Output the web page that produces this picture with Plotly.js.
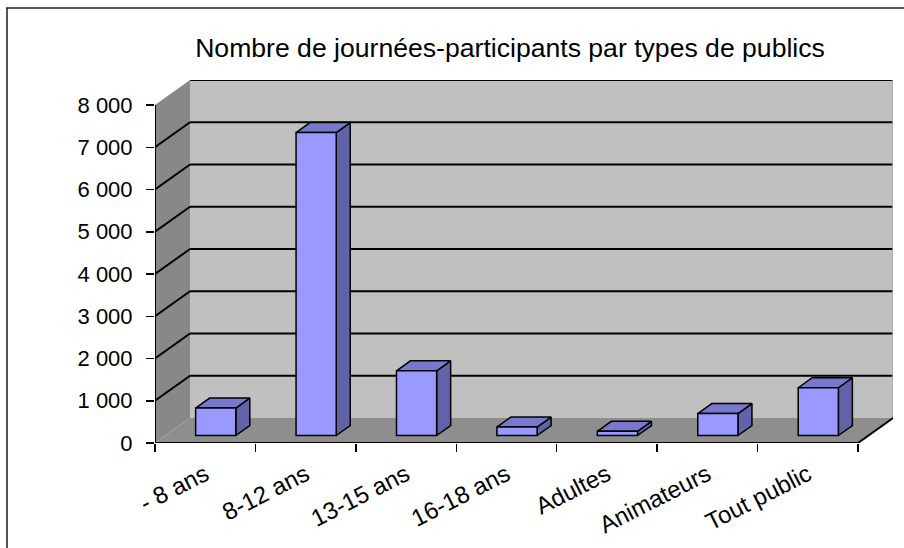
<!DOCTYPE html>
<html>
<head>
<meta charset="utf-8">
<script src="https://cdn.plot.ly/plotly-3.0.1.min.js"></script>
<style>html,body{margin:0;padding:0;background:#fff;}#chart{width:904px;height:548px;}</style>
</head>
<body>
<div id="chart"></div>
<script>
// ---- data ----
const categories = ['- 8 ans', '8-12 ans', '13-15 ans', '16-18 ans', 'Adultes', 'Animateurs', 'Tout public'];
const values = [650, 7170, 1530, 200, 100, 520, 1130];
const yTickVals = [0, 1000, 2000, 3000, 4000, 5000, 6000, 7000, 8000];
const yTickText = ['0', '1 000', '2 000', '3 000', '4 000', '5 000', '6 000', '7 000', '8 000'];
const titleText = 'Nombre de journées-participants par types de publics';

// ---- geometry (pixels) ----
const W = 904, H = 548;
const M = {l: 155, r: 11, t: 80, b: 105};
const plotW = W - M.l - M.r, plotH = H - M.t - M.b;
const depthPx = [35, 25];
const N = categories.length;
const yMaxTick = yTickVals[yTickVals.length - 1];
const xMax = N * plotW / (plotW - depthPx[0]);
const yMax = yMaxTick * plotH / (plotH - depthPx[1]);
const DX = xMax - N;          // depth offset in x units
const DY = yMax - yMaxTick;   // depth offset in y units
const BAR_W = 0.4, F0 = 0.3, F1 = 0.7;

const FONT = 'Liberation Sans, Arial, sans-serif';

// ---- shapes: walls, floor, grid ----
const shapes = [];
function poly(pts, fill, line) {
  let p = 'M' + pts.map(q => q[0] + ',' + q[1]).join('L') + 'Z';
  shapes.push({type: 'path', xref: 'x', yref: 'y', path: p, fillcolor: fill,
    line: line || {width: 0}, layer: 'below'});
}
function seg(x0, y0, x1, y1, color, width) {
  shapes.push({type: 'line', xref: 'x', yref: 'y', x0, y0, x1, y1,
    line: {color, width}, layer: 'below'});
}
// back wall
poly([[DX, DY], [xMax, DY], [xMax, yMax], [DX, yMax]], '#C0C0C0');
// left wall
poly([[0, 0], [DX, DY], [DX, yMax], [0, yMaxTick]], '#888888');
// floor
poly([[0, 0], [DX, DY], [xMax, DY], [N, 0]], '#8E8E8E');
// gridlines on back wall and left wall
yTickVals.forEach(v => {
  if (v === 0) return;
  seg(DX, v + DY, xMax, v + DY, '#000', 2);
  if (v < yMaxTick) seg(0, v, DX, v + DY, '#000', 2);
});
// wall right edge
seg(xMax, DY, xMax, yMax, '#A8A8A8', 1.5);
// floor edges
seg(N, 0, xMax, DY, '#000', 2);
seg(0, 0, N, 0, '#000', 2);
// y axis line
seg(0, 0, 0, yMaxTick, '#000', 2);

// chart frame (paper coords from pixels)
function px2x(px) { return (px - M.l) / plotW; }
function px2y(py) { return (H - M.b - py) / plotH; }
shapes.push({type: 'line', xref: 'paper', yref: 'paper', x0: px2x(7), x1: px2x(7), y0: px2y(8), y1: px2y(H),
  line: {color: '#555', width: 2}, layer: 'above'});
shapes.push({type: 'line', xref: 'paper', yref: 'paper', x0: px2x(6), x1: px2x(W), y0: px2y(8), y1: px2y(8),
  line: {color: '#222', width: 1.5}, layer: 'above'});

// ---- bar faces ----
const topX = [], topY = [], sideX = [], sideY = [];
const frontX = [], frontBase = [];
const bdx = (F1 - F0) * DX, bdy = (F1 - F0) * DY;
values.forEach((v, i) => {
  const xc = i + 0.5 + F0 * DX;
  const x0 = xc - BAR_W / 2, x1 = xc + BAR_W / 2;
  const y0 = F0 * DY, y1 = y0 + v;
  frontX.push(xc); frontBase.push(y0);
  topX.push(x0, x1, x1 + bdx, x0 + bdx, x0, null);
  topY.push(y1, y1, y1 + bdy, y1 + bdy, y1, null);
  sideX.push(x1, x1, x1 + bdx, x1 + bdx, x1, null);
  sideY.push(y0, y1, y1 + bdy, y0 + bdy, y0, null);
});

const traces = [
  {type: 'scatter', mode: 'lines', x: sideX, y: sideY, fill: 'toself', fillcolor: '#6262A8',
    line: {color: '#000', width: 1.5}, hoverinfo: 'skip', showlegend: false, xaxis: 'x', yaxis: 'y'},
  {type: 'scatter', mode: 'lines', x: topX, y: topY, fill: 'toself', fillcolor: '#7878CC',
    line: {color: '#000', width: 1.5}, hoverinfo: 'skip', showlegend: false, xaxis: 'x', yaxis: 'y'},
  {type: 'bar', x: frontX, y: values, base: frontBase, width: BAR_W,
    marker: {color: '#9999FF', line: {color: '#000', width: 1.5}},
    hoverinfo: 'skip', showlegend: false, xaxis: 'x2', yaxis: 'y'}
];

const boundaryTicks = [];
for (let i = 0; i <= N; i++) boundaryTicks.push(i);
const centerTicks = categories.map((c, i) => i + 0.5);

const layout = {
  width: W, height: H,
  margin: M,
  paper_bgcolor: '#fff', plot_bgcolor: 'rgba(0,0,0,0)',
  font: {family: FONT, color: '#000'},
  title: {text: titleText, font: {family: FONT, size: 26.6, color: '#000'},
    xref: 'container', yref: 'container', x: 510 / W, xanchor: 'center', y: 1 - 48 / H, yanchor: 'middle'},
  showlegend: false,
  bargap: 0,
  xaxis: {range: [0, xMax], tickvals: boundaryTicks, ticks: 'outside', ticklen: 8, tickwidth: 1.5,
    tickcolor: '#000', showticklabels: false, showgrid: false, zeroline: false, showline: false, fixedrange: true},
  xaxis2: {range: [0, xMax], overlaying: 'x', anchor: 'y', side: 'bottom', tickvals: centerTicks, ticktext: categories,
    ticks: '', tickangle: -27, tickfont: {family: FONT, size: 24, color: '#000'}, ticklabelstandoff: 12,
    showgrid: false, zeroline: false, showline: false, fixedrange: true},
  yaxis: {range: [0, yMax], tickvals: yTickVals, ticktext: yTickText, ticks: 'outside', ticklen: 8, tickwidth: 1.5,
    tickcolor: '#000', tickfont: {family: FONT, size: 22, color: '#000'}, ticklabelstandoff: 9,
    showgrid: false, zeroline: false, showline: false, fixedrange: true},
  shapes: shapes
};

Plotly.newPlot('chart', traces, layout, {displayModeBar: false, staticPlot: true});
</script>
</body>
</html>
